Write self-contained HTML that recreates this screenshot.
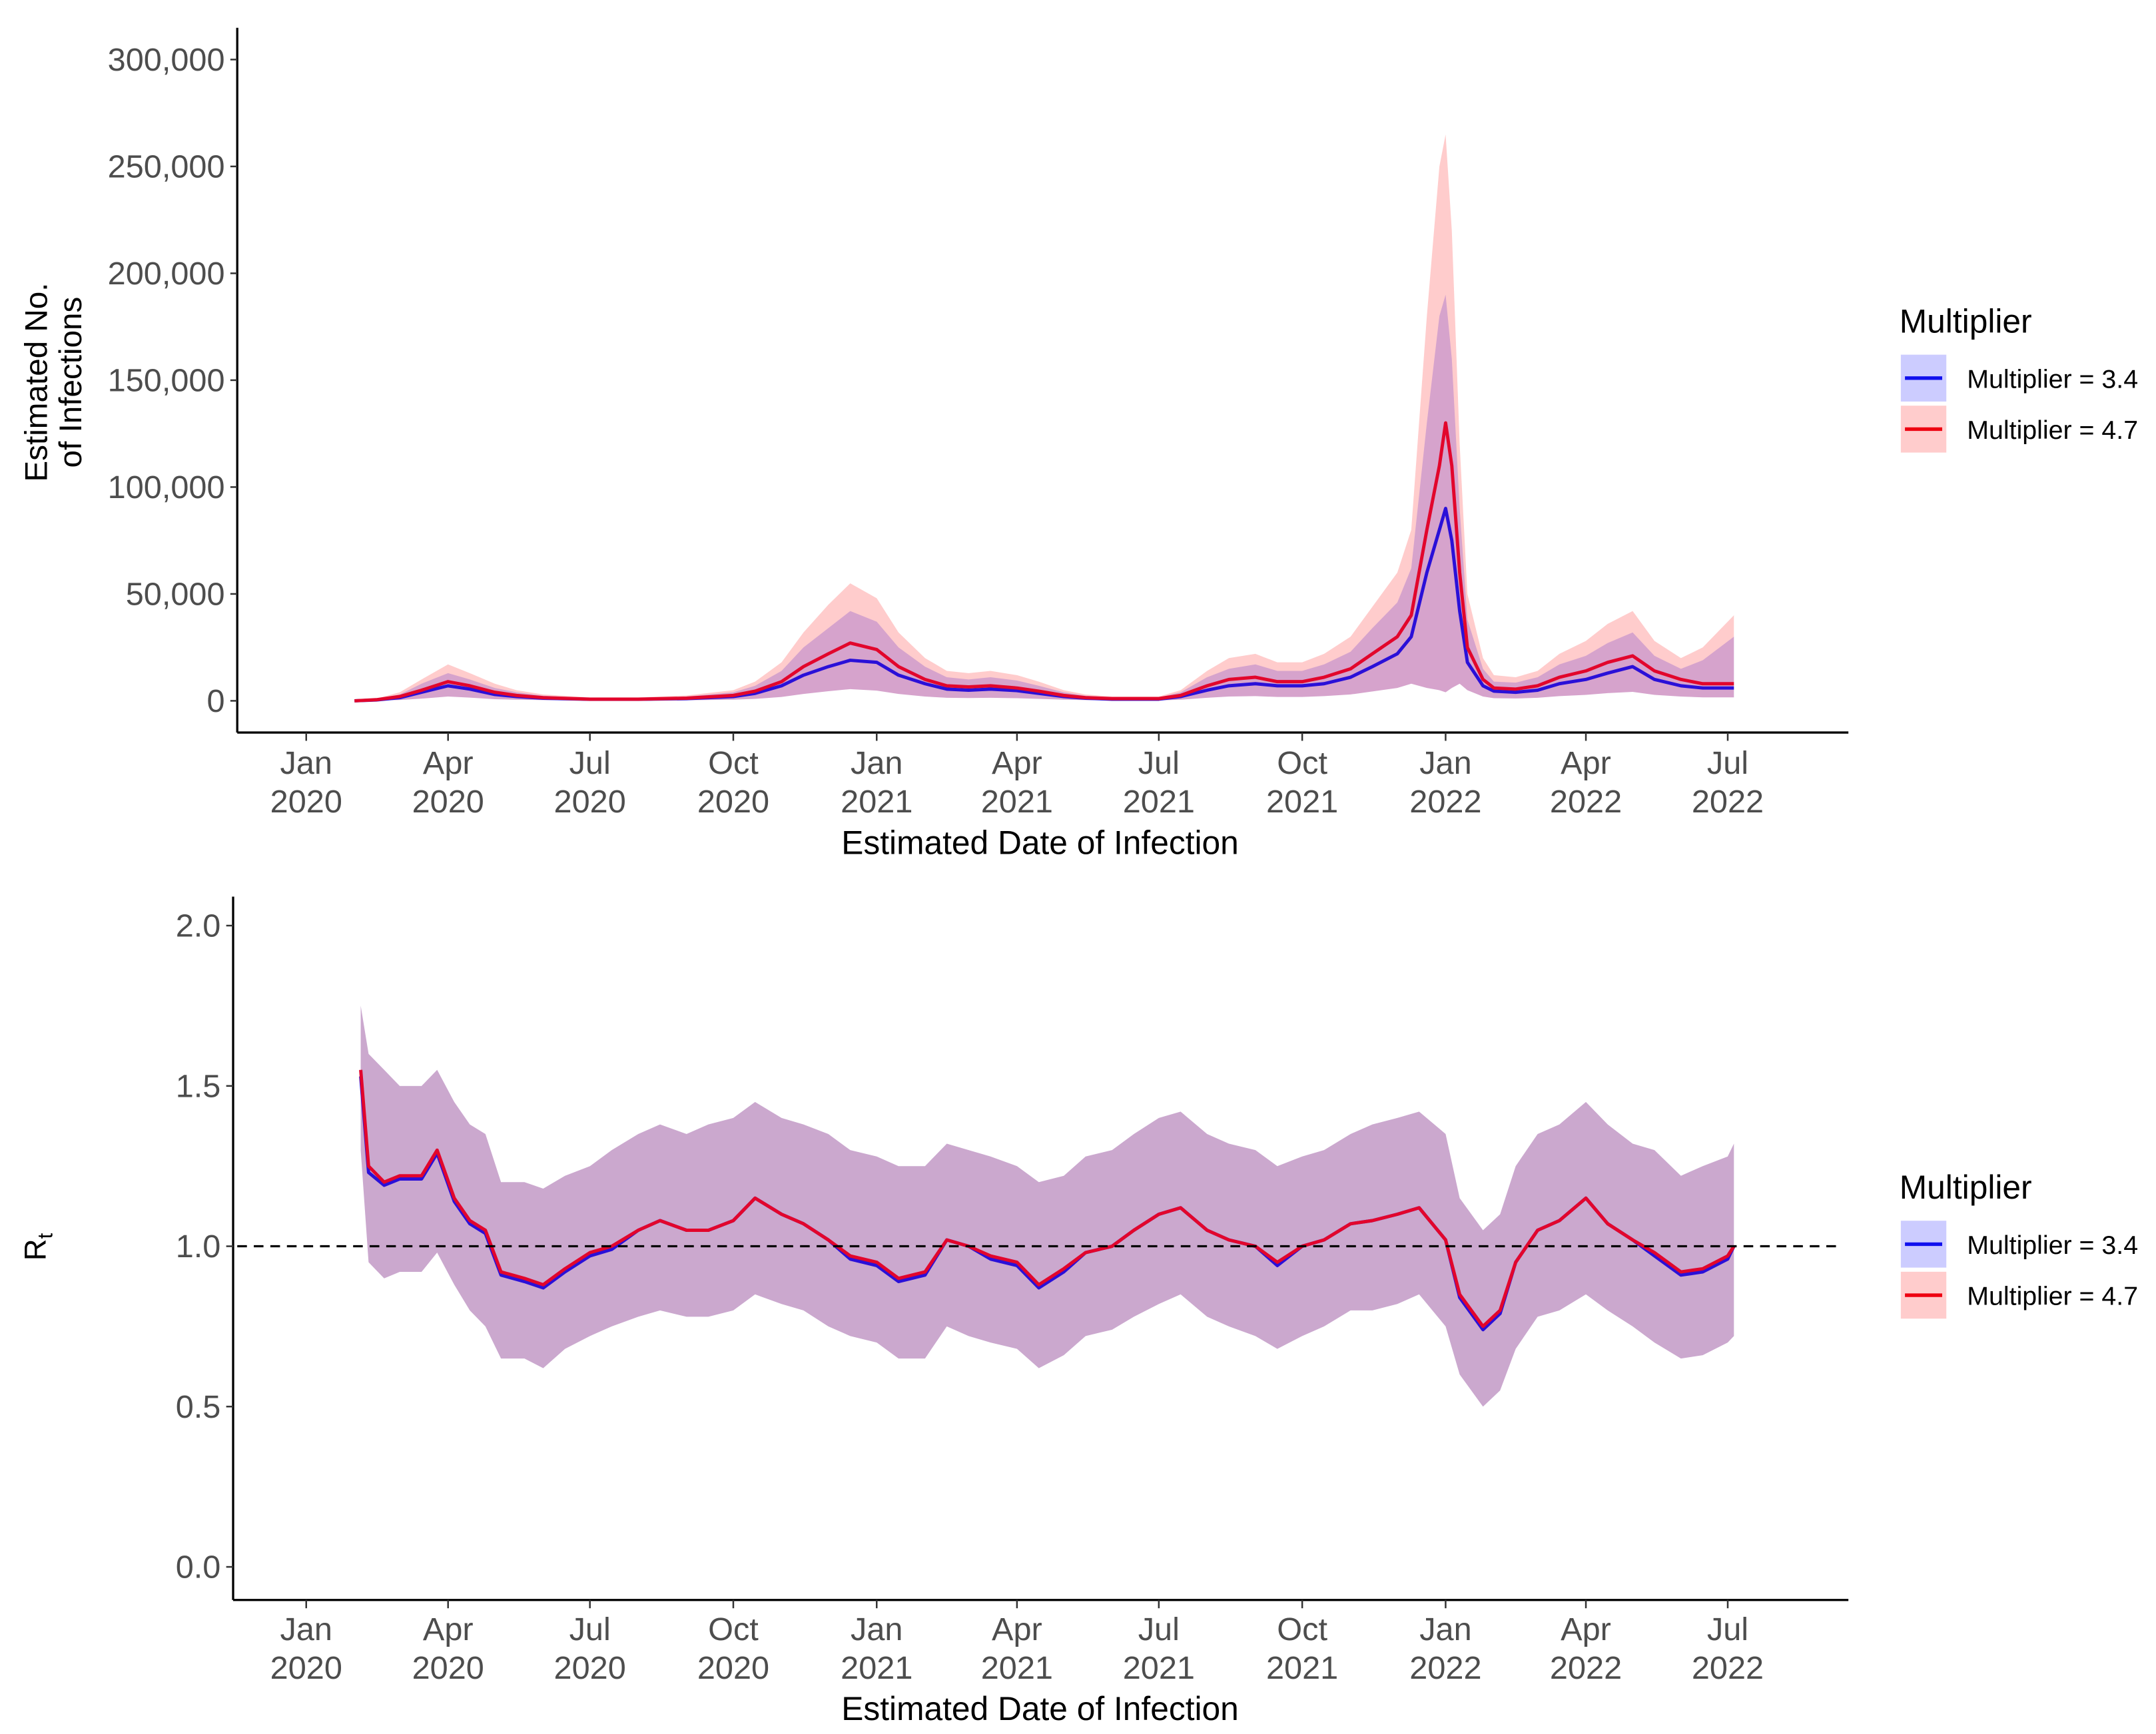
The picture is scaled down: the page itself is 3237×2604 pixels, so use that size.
<!DOCTYPE html>
<html><head><meta charset="utf-8"><style>
html,body{margin:0;padding:0;background:#fff;}
svg{display:block;font-family:"Liberation Sans",Arial,sans-serif;}
</style></head><body>
<svg id="chart" width="3237" height="2604" viewBox="0 0 1563 1257" xmlns="http://www.w3.org/2000/svg">
<rect width="1563" height="1257" fill="#fff"/>
<g id="topPanel"></g>
<g id="botPanel"></g>
</svg>
<script>
// ---- data ----
const infDates = ["2020-02-01","2020-02-15","2020-03-01","2020-03-15","2020-04-01","2020-04-15","2020-05-01","2020-05-15","2020-06-01","2020-07-01","2020-08-01","2020-09-01","2020-10-01","2020-10-15","2020-11-01","2020-11-15","2020-12-01","2020-12-15","2021-01-01","2021-01-15","2021-02-01","2021-02-15","2021-03-01","2021-03-15","2021-04-01","2021-04-15","2021-05-01","2021-05-15","2021-06-01","2021-07-01","2021-07-15","2021-08-01","2021-08-15","2021-09-01","2021-09-15","2021-10-01","2021-10-15","2021-11-01","2021-11-15","2021-12-01","2021-12-10","2021-12-20","2021-12-28","2022-01-01","2022-01-05","2022-01-10","2022-01-15","2022-01-25","2022-02-01","2022-02-15","2022-03-01","2022-03-15","2022-04-01","2022-04-15","2022-05-01","2022-05-15","2022-06-01","2022-06-15","2022-07-05"];
const infRed  = [0,500,2000,5000,9000,7000,4000,2500,1500,800,800,1200,2500,4500,9000,16000,22000,27000,24000,16000,10000,7000,6500,7000,6000,4500,2500,1500,1000,1000,2500,7000,10000,11000,9000,9000,11000,15000,22000,30000,40000,80000,110000,130000,110000,60000,25000,10000,6000,5500,7000,11000,14000,18000,21000,14000,10000,8000,8000];
const infBlue = [0,400,1500,4000,7000,5500,3000,2000,1200,700,700,1000,2000,3500,7000,12000,16000,19000,18000,12000,8000,5500,5000,5500,4800,3500,2000,1200,800,800,2000,5000,7000,8000,7000,7000,8000,11000,16000,22000,30000,60000,80000,90000,75000,42000,18000,7000,4500,4000,5000,8000,10000,13000,16000,10000,7000,6000,6000];
const infRedHi = [0,1000,4000,10000,17000,13000,8000,5000,3000,1600,1600,2500,5000,9000,18000,32000,45000,55000,48000,32000,20000,14000,13000,14000,12000,9000,5000,3000,2000,2000,5000,14000,20000,22000,18000,18000,22000,30000,44000,60000,80000,180000,250000,265000,220000,120000,50000,20000,12000,11000,14000,22000,28000,36000,42000,28000,20000,25000,40000];
const infBlueHi = [0,800,3000,8000,13000,10000,6000,4000,2400,1300,1300,2000,4000,7000,14000,25000,34000,42000,37000,25000,16000,11000,10000,11000,9500,7000,4000,2400,1600,1600,4000,11000,15000,17000,14000,14000,17000,23000,34000,46000,62000,130000,180000,190000,160000,90000,38000,15000,9000,8500,11000,17000,21000,27000,32000,21000,15000,19000,30000];
const infLo = [0,100,400,1000,2000,1500,800,500,300,150,150,250,500,900,1800,3200,4500,5500,4800,3200,2000,1400,1300,1400,1200,900,500,300,200,200,500,1400,2000,2200,1800,1800,2200,3000,4400,6000,8000,6000,5000,4000,6000,8000,5000,2000,1200,1100,1400,2200,2800,3600,4200,2800,2000,1600,1600];

const rtDates = ["2020-02-05","2020-02-10","2020-02-20","2020-03-01","2020-03-15","2020-03-25","2020-04-05","2020-04-15","2020-04-25","2020-05-05","2020-05-20","2020-06-01","2020-06-15","2020-07-01","2020-07-15","2020-08-01","2020-08-15","2020-09-01","2020-09-15","2020-10-01","2020-10-15","2020-11-01","2020-11-15","2020-12-01","2020-12-15","2021-01-01","2021-01-15","2021-02-01","2021-02-15","2021-03-01","2021-03-15","2021-04-01","2021-04-15","2021-05-01","2021-05-15","2021-06-01","2021-06-15","2021-07-01","2021-07-15","2021-08-01","2021-08-15","2021-09-01","2021-09-15","2021-10-01","2021-10-15","2021-11-01","2021-11-15","2021-12-01","2021-12-15","2022-01-01","2022-01-10","2022-01-25","2022-02-05","2022-02-15","2022-03-01","2022-03-15","2022-04-01","2022-04-15","2022-05-01","2022-05-15","2022-06-01","2022-06-15","2022-07-01","2022-07-05"];
const rtRed  = [1.55,1.25,1.2,1.22,1.22,1.3,1.15,1.08,1.05,0.92,0.9,0.88,0.93,0.98,1.0,1.05,1.08,1.05,1.05,1.08,1.15,1.1,1.07,1.02,0.97,0.95,0.9,0.92,1.02,1.0,0.97,0.95,0.88,0.93,0.98,1.0,1.05,1.1,1.12,1.05,1.02,1.0,0.95,1.0,1.02,1.07,1.08,1.1,1.12,1.02,0.85,0.75,0.8,0.95,1.05,1.08,1.15,1.07,1.02,0.98,0.92,0.93,0.97,1.0];
const rtBlue = [1.53,1.23,1.19,1.21,1.21,1.29,1.14,1.07,1.04,0.91,0.89,0.87,0.92,0.97,0.99,1.05,1.08,1.05,1.05,1.08,1.15,1.1,1.07,1.02,0.96,0.94,0.89,0.91,1.02,1.0,0.96,0.94,0.87,0.92,0.98,1.0,1.05,1.1,1.12,1.05,1.02,1.0,0.94,1.0,1.02,1.07,1.08,1.1,1.12,1.02,0.84,0.74,0.79,0.95,1.05,1.08,1.15,1.07,1.02,0.97,0.91,0.92,0.96,1.0];
const rtHi = [1.75,1.6,1.55,1.5,1.5,1.55,1.45,1.38,1.35,1.2,1.2,1.18,1.22,1.25,1.3,1.35,1.38,1.35,1.38,1.4,1.45,1.4,1.38,1.35,1.3,1.28,1.25,1.25,1.32,1.3,1.28,1.25,1.2,1.22,1.28,1.3,1.35,1.4,1.42,1.35,1.32,1.3,1.25,1.28,1.3,1.35,1.38,1.4,1.42,1.35,1.15,1.05,1.1,1.25,1.35,1.38,1.45,1.38,1.32,1.3,1.22,1.25,1.28,1.32];
const rtLo = [1.3,0.95,0.9,0.92,0.92,0.98,0.88,0.8,0.75,0.65,0.65,0.62,0.68,0.72,0.75,0.78,0.8,0.78,0.78,0.8,0.85,0.82,0.8,0.75,0.72,0.7,0.65,0.65,0.75,0.72,0.7,0.68,0.62,0.66,0.72,0.74,0.78,0.82,0.85,0.78,0.75,0.72,0.68,0.72,0.75,0.8,0.8,0.82,0.85,0.75,0.6,0.5,0.55,0.68,0.78,0.8,0.85,0.8,0.75,0.7,0.65,0.66,0.7,0.72];

const monthTicks = ["2020-01-01","2020-04-01","2020-07-01","2020-10-01","2021-01-01","2021-04-01","2021-07-01","2021-10-01","2022-01-01","2022-04-01","2022-07-01"];
const monthLabels = ["Jan","Apr","Jul","Oct","Jan","Apr","Jul","Oct","Jan","Apr","Jul"];
const yearLabels = ["2020","2020","2020","2020","2021","2021","2021","2021","2022","2022","2022"];
const infTicks = [0,50000,100000,150000,200000,250000,300000];
const infTickLabels = ["0","50,000","100,000","150,000","200,000","250,000","300,000"];
const rtTicks = [0,0.5,1,1.5,2];
const rtTickLabels = ["0.0","0.5","1.0","1.5","2.0"];

// ---- scales ----
const NS="http://www.w3.org/2000/svg";
const d0 = Date.UTC(2020,0,1);
function day(s){const p=s.split("-");return (Date.UTC(+p[0],+p[1]-1,+p[2])-d0)/86400000;}
function xs(s){return 222 + day(s)*(1048-222)/731;}
function yInf(v){return 508 - v*(508-43)/300000;}
function yRt(v){return 1136 - v*(1136-671)/2;}

function el(tag, attrs, parent){const e=document.createElementNS(NS,tag);for(const k in attrs)e.setAttribute(k,attrs[k]);parent.appendChild(e);return e;}
function txt(parent, s, attrs){const t=el("text",attrs,parent);t.textContent=s;return t;}

function band(parent, dates, hi, lo, ys, fill, name){
  let d="M"+dates.map((s,i)=>xs(s).toFixed(1)+","+ys(hi[i]).toFixed(1)).join("L");
  for(let i=dates.length-1;i>=0;i--) d+="L"+xs(dates[i]).toFixed(1)+","+ys(lo[i]).toFixed(1);
  const p=el("path",{d:d+"Z",fill:fill,stroke:"none"},parent);
  
  
}
function line(parent, dates, vals, ys, color, name){
  const p=el("path",{d:"M"+dates.map((s,i)=>xs(s).toFixed(1)+","+ys(vals[i]).toFixed(1)).join("L"),fill:"none",stroke:color,"stroke-width":2.4,"stroke-linejoin":"round"},parent);
  
  
}

function axes(g, ax, axTop, ay, ticks, labels, ys, labelY1, labelY2, titleY){
  const a1=el("line",{x1:ax,y1:axTop,x2:ax,y2:ay,stroke:"#000","stroke-width":1.6},g);
  
  
  const a2=el("line",{x1:ax,y1:ay,x2:1340,y2:ay,stroke:"#000","stroke-width":1.6},g);
  
  
  ticks.forEach((v,i)=>{
    el("line",{x1:ax-5,y1:ys(v),x2:ax,y2:ys(v),stroke:"#333","stroke-width":1.2},g);
    const t=txt(g,labels[i],{x:ax-9,y:ys(v)+8,"text-anchor":"end","font-size":23.5,fill:"#4d4d4d"});
    
    
  });
  monthTicks.forEach((s,i)=>{
    el("line",{x1:xs(s),y1:ay,x2:xs(s),y2:ay+6,stroke:"#333","stroke-width":1.2},g);
    const t1=txt(g,monthLabels[i],{x:xs(s),y:labelY1,"text-anchor":"middle","font-size":23.5,fill:"#4d4d4d"});
    
    
    const t2=txt(g,yearLabels[i],{x:xs(s),y:labelY2,"text-anchor":"middle","font-size":23.5,fill:"#4d4d4d"});
    
    
  });
  const xt=txt(g,"Estimated Date of Infection",{x:754,y:titleY,"text-anchor":"middle","font-size":24,fill:"#000"});
  
  
}

function legend(g, titleY){
  const t=txt(g,"Multiplier",{x:1377,y:titleY,"font-size":24,fill:"#000"});
  
  
  const items=[["rgba(0,0,255,0.2)","#1010ee","Multiplier = 3.4"],["rgba(255,0,0,0.2)","#ee0010","Multiplier = 4.7"]];
  items.forEach((it,i)=>{
    const y0=titleY+16+i*37;
    const r=el("rect",{x:1378,y:y0,width:33,height:34,fill:it[0]},g);
    
    
    el("line",{x1:1381,y1:y0+17,x2:1408,y2:y0+17,stroke:it[1],"stroke-width":2.6},g);
    const lt=txt(g,it[2],{x:1426,y:y0+24,"font-size":19,fill:"#000"});
    
    
  });
}

// ---- top panel ----
const topG=document.getElementById("topPanel");
band(topG, infDates, infBlueHi, infLo, yInf, "rgba(0,0,255,0.2)", "band-multiplier-3-4");
band(topG, infDates, infRedHi, infLo, yInf, "rgba(255,0,0,0.2)", "band-multiplier-4-7");
line(topG, infDates, infBlue, yInf, "#2a10d8", "line-multiplier-3-4");
line(topG, infDates, infRed, yInf, "#e2062c", "line-multiplier-4-7");
axes(topG, 172, 20, 531, infTicks, infTickLabels, yInf, 561, 589, 619);
legend(topG, 241);
let yt=txt(topG,"Estimated No.",{x:0,y:0,"text-anchor":"middle","font-size":23,fill:"#000",transform:"translate(34,277) rotate(-90)"});


yt=txt(topG,"of Infections",{x:0,y:0,"text-anchor":"middle","font-size":23,fill:"#000",transform:"translate(59,277) rotate(-90)"});



// ---- bottom panel ----
const botG=document.getElementById("botPanel");
band(botG, rtDates, rtHi, rtLo, yRt, "rgba(0,0,255,0.2)", "rt-band-multiplier-3-4");
band(botG, rtDates, rtHi, rtLo, yRt, "rgba(200,60,60,0.25)", "rt-band-multiplier-4-7");
line(botG, rtDates, rtBlue, yRt, "#2a10d8", "rt-line-multiplier-3-4");
line(botG, rtDates, rtRed, yRt, "#e2062c", "rt-line-multiplier-4-7");
const refLine=el("line",{x1:172,y1:yRt(1),x2:1336,y2:yRt(1),stroke:"#000","stroke-width":1.6,"stroke-dasharray":"7,5"},botG);


axes(botG, 169, 650, 1160, rtTicks, rtTickLabels, yRt, 1189, 1217, 1247);
legend(botG, 869);
const rtTitle=el("text",{x:0,y:0,"font-size":22,fill:"#000",transform:"translate(33,914) rotate(-90)"},botG);


rtTitle.textContent='R';
const sub=el("tspan",{"font-size":15,dy:5},rtTitle);
sub.textContent='t';
</script>
</body></html>
